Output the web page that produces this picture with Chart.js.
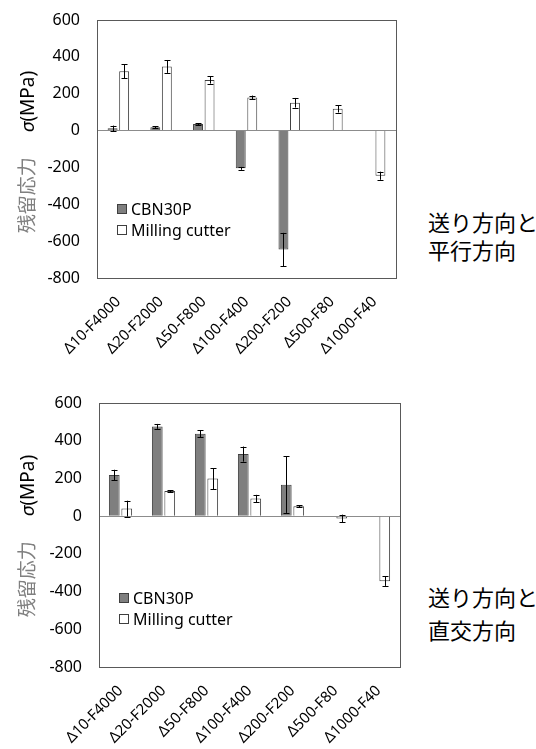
<!DOCTYPE html>
<html>
<head>
<meta charset="utf-8">
<script src="https://cdn.jsdelivr.net/npm/chart.js@4.4.1/dist/chart.umd.min.js"></script>
<style>
  html, body { margin: 0; padding: 0; background: #fff; }
  body { width: 536px; height: 749px; position: relative; overflow: hidden; }
  .box { position: absolute; left: 0; }
  .side { position: absolute; left: 428px; font-family: "Noto Sans CJK JP", "Noto Sans", sans-serif; font-size: 22px; color: #000; line-height: 28px; white-space: nowrap; }
  .ytitle { position: absolute; width: 240px; height: 26px; line-height: 26px; text-align: center; white-space: nowrap; transform: rotate(-90deg); transform-origin: 50% 50%; }
  .ytitle .a { font-family: "Noto Sans CJK JP", sans-serif; font-size: 19px; color: #808080; }
  .ytitle .gap { display: inline-block; width: 25px; }
  .ytitle .b { font-family: "Noto Sans", sans-serif; font-size: 19px; color: #000; font-style: italic; }
  .ytitle .c { font-family: "Noto Sans", sans-serif; font-size: 19px; color: #000; }
</style>
</head>
<body>
<div class="box" style="top:0px;width:420px;height:360px;"><canvas id="c1" width="420" height="360"></canvas></div>
<div class="box" style="top:380px;width:420px;height:369px;"><canvas id="c2" width="420" height="369"></canvas></div>
<div class="ytitle" id="t1"></div>
<div class="ytitle" id="t2"></div>
<div class="side" style="top:207px;">送り方向と</div>
<div class="side" style="top:235px;">平行方向</div>
<div class="side" style="top:582px;">送り方向と</div>
<div class="side" style="top:615px;">直交方向</div>
<script>
// ---- data ----
const categories = ["Δ10-F4000", "Δ20-F2000", "Δ50-F800", "Δ100-F400", "Δ200-F200", "Δ500-F80", "Δ1000-F40"];
const seriesNames = ["CBN30P", "Milling cutter"];
// parallel to feed direction (top chart)
const parallelCBN = [12, 18, 35, -205, -645, null, null];
const parallelCBNErr = [15, 5, 5, 8, 90, 0, 0];
const parallelMill = [322, 348, 275, 180, 151, 118, -245];
const parallelMillErr = [38, 35, 20, 10, 26, 20, 22];
// perpendicular to feed direction (bottom chart)
const perpCBN = [218, 476, 437, 329, 167, null, null];
const perpCBNErr = [28, 13, 18, 40, 150, 0, 0];
const perpMill = [40, 133, 199, 93, 52, -12, -345];
const perpMillErr = [42, 5, 55, 20, 5, 20, 25];
const yMin = -800, yMax = 600, yStep = 200;
const axisTitleA = "残留応力";
const axisTitleB = "σ";
const axisTitleC = "(MPa)";

const FONT = '"Noto Sans", "DejaVu Sans", sans-serif';

function buildTitle(id, cx, cy) {
  const el = document.getElementById(id);
  const a = document.createElement('span'); a.className = 'a'; a.textContent = axisTitleA;
  const sp = document.createElement('span'); sp.className = 'gap';
  const b = document.createElement('span'); b.className = 'b'; b.textContent = axisTitleB;
  const c = document.createElement('span'); c.className = 'c'; c.textContent = axisTitleC;
  el.append(a, sp, b, c);
  el.style.left = (cx - 120) + 'px';
  el.style.top = (cy - 13) + 'px';
}

const errorBarPlugin = {
  id: 'errorBars',
  afterDatasetsDraw(chart) {
    const ctx = chart.ctx;
    const ys = chart.scales.y;
    chart.data.datasets.forEach((ds, di) => {
      const meta = chart.getDatasetMeta(di);
      if (!ds.errors) return;
      meta.data.forEach((bar, i) => {
        const v = ds.data[i];
        const e = ds.errors[i];
        if (v === null || v === undefined || !e) return;
        const x = Math.round(bar.x) + 0.5;
        const y1 = ys.getPixelForValue(v + e);
        const y2 = ys.getPixelForValue(v - e);
        ctx.save();
        ctx.strokeStyle = '#000';
        ctx.lineWidth = 1;
        ctx.beginPath();
        ctx.moveTo(x, y1); ctx.lineTo(x, y2);
        ctx.moveTo(x - 3, Math.round(y1) + 0.5); ctx.lineTo(x + 3, Math.round(y1) + 0.5);
        ctx.moveTo(x - 3, Math.round(y2) + 0.5); ctx.lineTo(x + 3, Math.round(y2) + 0.5);
        ctx.stroke();
        ctx.restore();
      });
    });
  }
};

const decorPlugin = {
  id: 'decor',
  afterDraw(chart, args, opts) {
    const ctx = chart.ctx;
    const a = chart.chartArea;
    ctx.save();
    ctx.strokeStyle = '#595959';
    ctx.lineWidth = 1;
    ctx.strokeRect(Math.round(a.left) + 0.5, Math.round(a.top) + 0.5, Math.round(a.right - a.left), Math.round(a.bottom - a.top));
    ctx.font = '16px ' + FONT;
    ctx.textBaseline = 'middle';
    chart.data.datasets.forEach((ds, i) => {
      const y = a.top + opts.legendY + i * opts.legendGap;
      const x = a.left + opts.legendX;
      ctx.fillStyle = ds.backgroundColor;
      ctx.fillRect(x, Math.round(y - 5), 10, 10);
      ctx.strokeStyle = ds.borderColor;
      ctx.strokeRect(x + 0.5, Math.round(y - 5) + 0.5, 9, 9);
      ctx.fillStyle = '#000';
      ctx.fillText(ds.label, x + 14, y + 1);
    });
    ctx.restore();
  }
};

function makeChart(id, cbn, cbnErr, mill, millErr, geo) {
  return new Chart(document.getElementById(id), {
    type: 'bar',
    data: {
      labels: categories,
      datasets: [
        { label: seriesNames[0], data: cbn, errors: cbnErr, backgroundColor: '#7f7f7f', borderColor: '#3f3f3f', borderWidth: 1 },
        { label: seriesNames[1], data: mill, errors: millErr, backgroundColor: '#ffffff', borderColor: '#3f3f3f', borderWidth: 1 }
      ]
    },
    options: {
      responsive: false,
      animation: false,
      devicePixelRatio: 1,
      categoryPercentage: geo.cp,
      barPercentage: geo.bp,
      layout: { padding: { top: geo.top, right: geo.right, left: 0, bottom: 0 } },
      plugins: {
        legend: { display: false },
        tooltip: { enabled: false },
        decor: { legendX: 20, legendY: geo.legendY, legendGap: 21 }
      },
      scales: {
        x: {
          grid: { display: false, drawTicks: false },
          border: { display: false },
          ticks: { autoSkip: false, minRotation: 45, maxRotation: 45, padding: 15, color: '#000', font: { family: FONT, size: 15 } },
          afterFit(s) { s.height = geo.xh; s.paddingLeft = 0; s.paddingRight = 0; }
        },
        y: {
          min: yMin, max: yMax,
          ticks: { stepSize: yStep, padding: 17, color: '#000', font: { family: FONT, size: 16 } },
          grid: {
            drawTicks: false,
            color: (c) => (c.tick && c.tick.value === 0) ? '#8c8c8c' : 'rgba(0,0,0,0)',
            lineWidth: 1
          },
          border: { display: false },
          afterFit(s) { s.width = geo.yw; s.paddingTop = 0; s.paddingBottom = 0; }
        }
      }
    },
    plugins: [errorBarPlugin, decorPlugin]
  });
}

makeChart('c1', parallelCBN, parallelCBNErr, parallelMill, parallelMillErr,
  { top: 20, right: 24, yw: 97, xh: 82, cp: 0.54, bp: 0.86, legendY: 189 });
makeChart('c2', perpCBN, perpCBNErr, perpMill, perpMillErr,
  { top: 23, right: 20, yw: 99, xh: 82, cp: 0.58, bp: 0.86, legendY: 195 });
buildTitle('t1', 26, 152);
buildTitle('t2', 26, 536);
</script>
</body>
</html>
